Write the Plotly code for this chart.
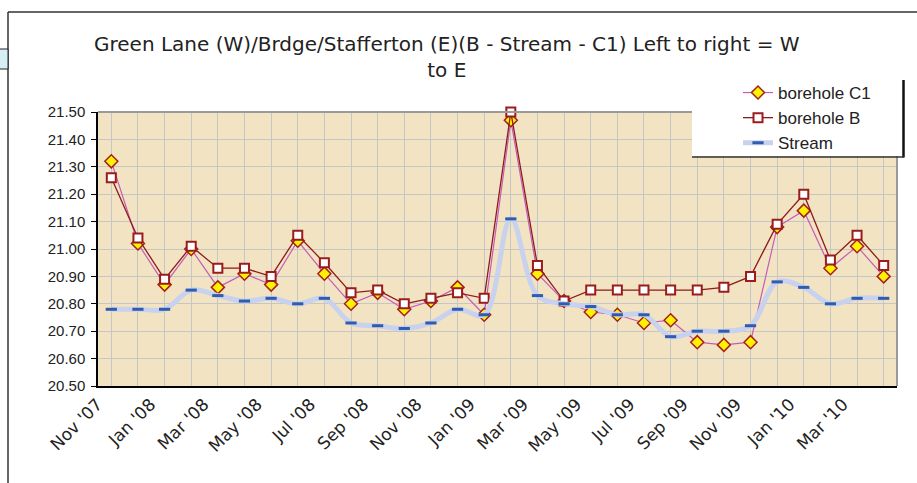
import plotly.graph_objects as go

months = ["Nov '07", "Dec '07", "Jan '08", "Feb '08", "Mar '08", "Apr '08", "May '08", "Jun '08",
          "Jul '08", "Aug '08", "Sep '08", "Oct '08", "Nov '08", "Dec '08", "Jan '09", "Feb '09",
          "Mar '09", "Apr '09", "May '09", "Jun '09", "Jul '09", "Aug '09", "Sep '09", "Oct '09",
          "Nov '09", "Dec '09", "Jan '10", "Feb '10", "Mar '10", "Apr '10"]
tick_labels = [m if i % 2 == 0 else "" for i, m in enumerate(months)]

borehole_c1 = [21.32, 21.02, 20.87, 21.00, 20.86, 20.91, 20.87, 21.03, 20.91, 20.80,
               20.84, 20.78, 20.81, 20.86, 20.76, 21.47, 20.91, 20.81, 20.77, 20.76,
               20.73, 20.74, 20.66, 20.65, 20.66, 21.08, 21.14, 20.93, 21.01, 20.90]
borehole_b = [21.26, 21.04, 20.89, 21.01, 20.93, 20.93, 20.90, 21.05, 20.95, 20.84,
              20.85, 20.80, 20.82, 20.84, 20.82, 21.50, 20.94, 20.81, 20.85, 20.85,
              20.85, 20.85, 20.85, 20.86, 20.90, 21.09, 21.20, 20.96, 21.05, 20.94]
stream = [20.78, 20.78, 20.78, 20.85, 20.83, 20.81, 20.82, 20.80, 20.82, 20.73,
          20.72, 20.71, 20.73, 20.78, 20.76, 21.11, 20.83, 20.80, 20.79, 20.76,
          20.76, 20.68, 20.70, 20.70, 20.72, 20.88, 20.86, 20.80, 20.82, 20.82]

title_text = "Green Lane (W)/Brdge/Stafferton (E)(B - Stream - C1) Left to right = W<br>to E"

W, H = 917, 483
L, R, T, B = 98, 897, 112, 386


def pxx(x):
    return (x - L) / (R - L)


def pxy(y):
    return (B - y) / (B - T)


fig = go.Figure()
fig.add_trace(go.Scatter(
    x=months, y=borehole_c1, name="borehole C1", mode="lines+markers",
    line=dict(color="#C45CB8", width=1.2),
    marker=dict(symbol="diamond", size=10, color="#FFF200",
                line=dict(color="#A3201E", width=1.5)),
    cliponaxis=False))
fig.add_trace(go.Scatter(
    x=months, y=borehole_b, name="borehole B", mode="lines+markers",
    line=dict(color="#8E1B1B", width=1.3),
    marker=dict(symbol="square", size=9, color="#FFFFFF",
                line=dict(color="#9B1C1C", width=2)),
    cliponaxis=False))
fig.add_trace(go.Scatter(
    x=months, y=stream, name="Stream", mode="lines+markers",
    line=dict(color="#C8D2EE", width=5, shape="spline", smoothing=1.0),
    marker=dict(symbol="line-ew", size=8, color="#2F5BB0",
                line=dict(color="#2F5BB0", width=3)),
    cliponaxis=False))

shapes = [
    # outer frame
    dict(type="line", xref="paper", yref="paper", x0=pxx(8), x1=pxx(917), y0=pxy(12), y1=pxy(12),
         line=dict(color="#333333", width=1.5), layer="above"),
    dict(type="line", xref="paper", yref="paper", x0=pxx(8), x1=pxx(8), y0=pxy(12), y1=pxy(483),
         line=dict(color="#333333", width=1.5), layer="above"),
    dict(type="rect", xref="paper", yref="paper", x0=pxx(-2), x1=pxx(8), y0=pxy(49), y1=pxy(69),
         fillcolor="#D6EEF4", line=dict(color="#222222", width=1), layer="above"),
    # plot area top/right border
    dict(type="line", xref="paper", yref="paper", x0=0, x1=1, y0=1, y1=1,
         line=dict(color="#9A9A9A", width=2), layer="above"),
    dict(type="line", xref="paper", yref="paper", x0=1, x1=1, y0=0, y1=1,
         line=dict(color="#9A9A9A", width=2), layer="above"),
    # legend box
    dict(type="rect", xref="paper", yref="paper", x0=pxx(692), x1=pxx(903), y0=pxy(78), y1=pxy(156),
         fillcolor="#FFFFFF", line=dict(width=0), layer="above"),
    dict(type="line", xref="paper", yref="paper", x0=pxx(903.5), x1=pxx(903.5), y0=pxy(80), y1=pxy(157.5),
         line=dict(color="#111111", width=2.5), layer="above"),
    dict(type="line", xref="paper", yref="paper", x0=pxx(692), x1=pxx(904), y0=pxy(157), y1=pxy(157),
         line=dict(color="#333333", width=1.5), layer="above"),
]

fig.update_layout(
    width=W, height=H,
    margin=dict(l=L, r=W - R, t=T, b=H - B, pad=0),
    paper_bgcolor="#FFFFFF",
    plot_bgcolor="#F2E3C3",
    shapes=shapes,
    showlegend=True,
    legend=dict(x=pxx(738), y=pxy(75), xanchor="left", yanchor="top",
                bgcolor="rgba(0,0,0,0)", borderwidth=0,
                font=dict(family="Arial, Liberation Sans, sans-serif", size=17, color="#222222"),
                tracegroupgap=0),
    annotations=[dict(text=title_text, xref="paper", yref="paper",
                      x=pxx(447), y=pxy(57), xanchor="center", yanchor="middle",
                      showarrow=False, align="center",
                      font=dict(family="DejaVu Sans, sans-serif", size=20, color="#222222"))],
)

fig.update_xaxes(
    type="category", categoryorder="array", categoryarray=months,
    tickmode="array", tickvals=months, ticktext=tick_labels,
    tickangle=-45, range=[-0.5, len(months) - 0.5],
    showgrid=True, gridcolor="#C6C6C6", gridwidth=1,
    showline=True, linecolor="#000000", linewidth=1.5,
    ticks="", ticklabelshift=-14,
    tickfont=dict(family="DejaVu Sans, sans-serif", size=17, color="#222222"),
)
fig.update_yaxes(
    range=[20.5, 21.5], dtick=0.1, tick0=20.5, tickformat=".2f",
    showgrid=True, gridcolor="#C6C6C6", gridwidth=1,
    showline=True, linecolor="#000000", linewidth=1.5,
    ticks="outside", ticklen=5, tickcolor="#000000", tickwidth=1,
    ticklabelstandoff=3,
    zeroline=False,
    tickfont=dict(family="Arial, Liberation Sans, sans-serif", size=15, color="#222222"),
)

fig.write_html("out.html", config={"displayModeBar": False},
               post_script="document.body.style.margin='0px';document.body.style.overflow='hidden';")
